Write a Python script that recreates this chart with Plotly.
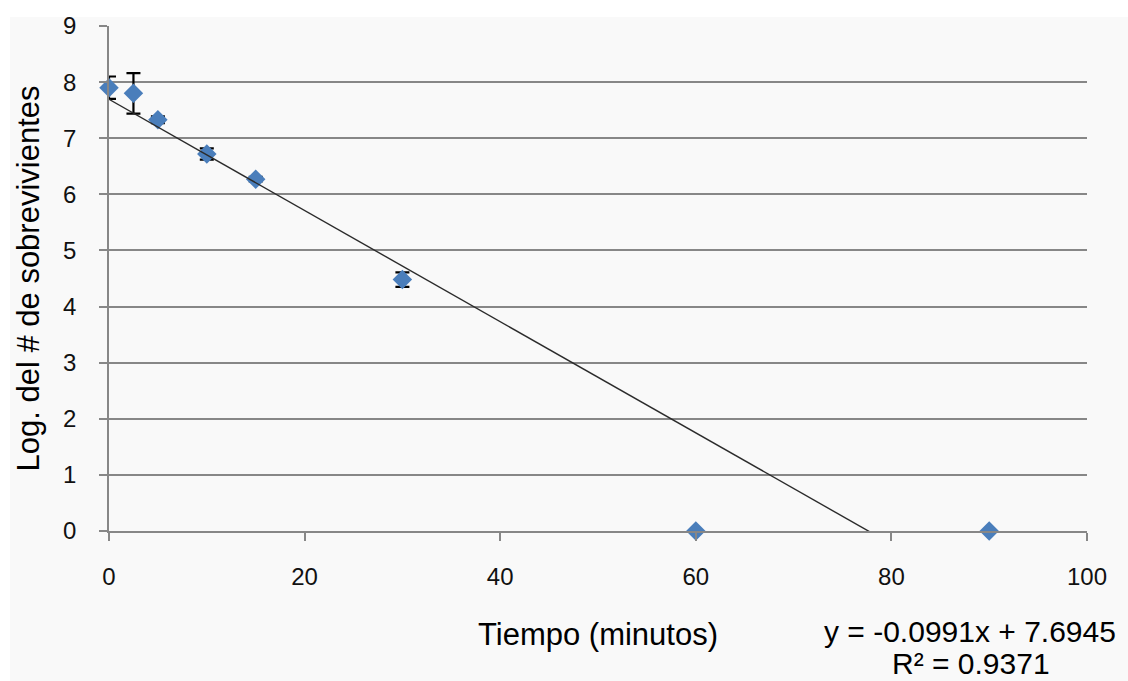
import plotly.graph_objects as go

# Data
tiempo = [0, 2.5, 5, 10, 15, 30, 60, 90]
log_sobrevivientes = [7.90, 7.80, 7.33, 6.72, 6.27, 4.48, 0.0, 0.0]
error_y = [0.20, 0.36, 0.06, 0.10, 0.04, 0.13, 0.0, 0.0]

slope = -0.0991
intercept = 7.6945
r2 = 0.9371
trend_x = [min(tiempo), max(tiempo)]
trend_y = [slope * x + intercept for x in trend_x]

x_ticks = [0, 20, 40, 60, 80, 100]
y_ticks = list(range(0, 10))

FONT = "Liberation Sans, Arial, sans-serif"
GRID = "#878787"
BG = "#f9f9f9"

fig = go.Figure()
fig.add_trace(go.Scatter(
    x=tiempo, y=log_sobrevivientes, mode="markers",
    marker=dict(symbol="diamond", size=15, color="#4a7ebb"),
    error_y=dict(type="data", array=error_y, visible=True, color="#000000",
                 thickness=2.2, width=7),
    cliponaxis=False, showlegend=False,
))
fig.add_trace(go.Scatter(
    x=trend_x, y=trend_y, mode="lines",
    line=dict(color="#2b2b2b", width=1.4),
    showlegend=False,
))

fig.update_layout(
    width=1128, height=681,
    margin=dict(l=109, r=41, t=19, b=150),
    paper_bgcolor="#ffffff", plot_bgcolor=BG,
    font=dict(family=FONT, color="#000000"),
    shapes=[dict(type="rect", xref="paper", yref="paper",
                 x0=-0.1012, x1=1.05, y0=-0.3, y1=1.0176,
                 fillcolor=BG, line=dict(width=0), layer="below")],
    xaxis=dict(range=[0, 100], tickvals=x_ticks, showgrid=False,
               showline=True, linecolor=GRID, linewidth=1.5,
               ticks="outside", ticklen=8, tickcolor=GRID, tickwidth=1.5,
               tickfont=dict(size=24, color="#111111", family=FONT),
               ticklabelstandoff=15, zeroline=False, fixedrange=True),
    yaxis=dict(range=[0, 9], tickvals=y_ticks, showgrid=True,
               gridcolor=GRID, gridwidth=1.5,
               showline=True, linecolor=GRID, linewidth=1.5,
               ticks="outside", ticklen=8, tickcolor=GRID, tickwidth=1.5,
               tickfont=dict(size=24, color="#111111", family=FONT),
               ticklabelstandoff=18, zeroline=False, fixedrange=True),
    annotations=[
        dict(text="Tiempo (minutos)", xref="paper", yref="paper",
             x=(598 - 109) / 978, y=(531 - 636) / 512,
             xanchor="center", yanchor="middle", showarrow=False,
             font=dict(size=31, family=FONT)),
        dict(text="Log. del # de sobrevivientes", xref="paper", yref="paper",
             x=(28 - 109) / 978, y=(531 - 275) / 512, textangle=-90,
             xanchor="center", yanchor="middle", showarrow=False,
             font=dict(size=31, family=FONT)),
        dict(text=f"y = {slope}x + {intercept}", xref="paper", yref="paper",
             x=(970 - 109) / 978, y=(531 - 633) / 512,
             xanchor="center", yanchor="middle", showarrow=False,
             font=dict(size=30, family=FONT)),
        dict(text=f"R² = {r2}", xref="paper", yref="paper",
             x=(971 - 109) / 978, y=(531 - 665) / 512,
             xanchor="center", yanchor="middle", showarrow=False,
             font=dict(size=30, family=FONT)),
    ],
)

fig.write_html("out.html", config={"displayModeBar": False},
               post_script="document.body.style.margin='0';document.body.style.overflow='hidden';")
